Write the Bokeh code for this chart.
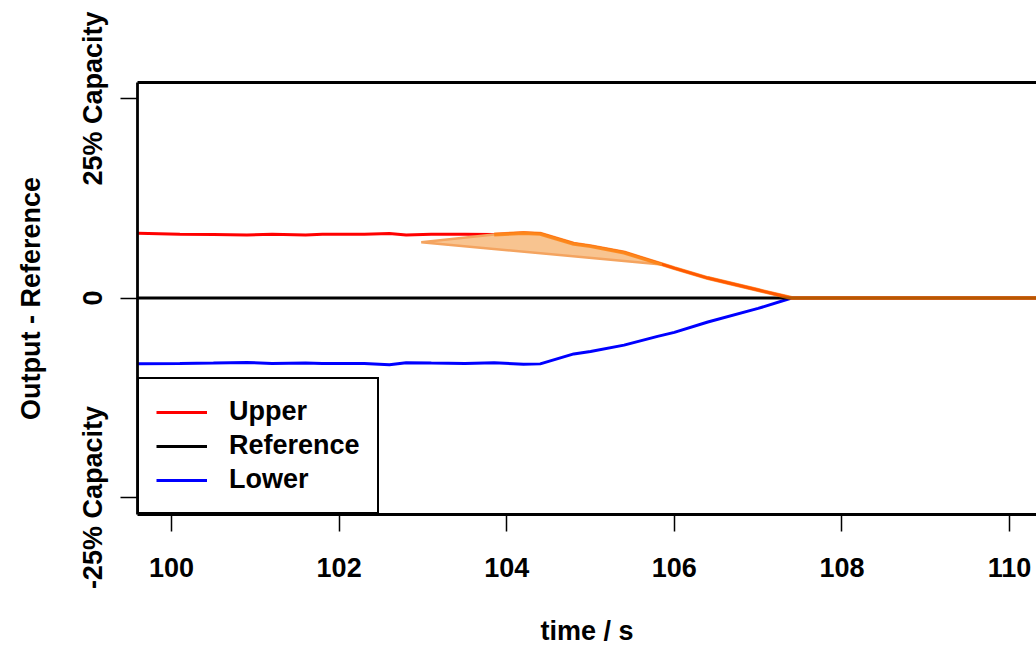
from bokeh.plotting import figure
from bokeh.models import (FixedTicker, LinearAxis, Range1d, Legend, LegendItem)
from bokeh.embed import file_html
from bokeh.resources import INLINE

# ---- data ----
time_s = [99.6, 100.1, 100.5, 100.9, 101.2, 101.6, 101.8, 102.3, 102.6, 102.8, 103.1,
          103.5, 103.85, 104.2, 104.4, 104.8, 105.0, 105.4, 105.8, 106.0, 106.4,
          107.0, 107.4, 108.0, 109.0, 110.0, 110.5]
upper = [8.1, 8.0, 7.95, 7.9, 8.0, 7.9, 8.0, 7.98, 8.08, 7.9, 8.0,
         8.0, 7.95, 8.15, 8.05, 6.8, 6.5, 5.7, 4.4, 3.75, 2.5,
         1.0, 0.0, 0.0, 0.0, 0.0, 0.0]
lower = [-8.25, -8.2, -8.15, -8.08, -8.2, -8.15, -8.2, -8.2, -8.35, -8.1, -8.15,
         -8.2, -8.1, -8.3, -8.25, -7.0, -6.7, -5.9, -4.8, -4.3, -3.0,
         -1.3, 0.0, 0.0, 0.0, 0.0, 0.0]
ref_t = [99.5, 110.5]
ref_v = [0.0, 0.0]
output_t = [103.85, 104.2, 104.4, 104.8, 105.0, 105.4, 105.8, 106.0, 106.4,
            107.0, 107.4, 108.0, 110.5]
output_v = [7.95, 8.15, 8.05, 6.8, 6.5, 5.7, 4.4, 3.75, 2.5,
            1.0, 0.0, 0.0, 0.0]
band_t = [102.98, 103.85, 104.2, 104.4, 104.8, 105.0, 105.4, 105.85]
band_v = [7.0, 7.95, 8.15, 8.05, 6.8, 6.5, 5.7, 4.2]
x_ticks = [100, 102, 104, 106, 108, 110]
y_ticks = [-25, 0, 25]
y_tick_labels = ["-25% Capacity", "0", "25% Capacity"]

FONT = "Liberation Sans"
FS = "27px"

p = figure(width=1036, height=648, output_backend="svg", toolbar_location=None,
           x_range=Range1d(99.594, 110.322), y_range=Range1d(-27.12, 27.0),
           min_border_left=137, min_border_top=82, min_border_bottom=133,
           min_border_right=0, x_axis_label="time / s",
           y_axis_label="Output - Reference")
p.outline_line_color = None
p.grid.visible = False
p.background_fill_color = "white"
p.border_fill_color = "white"

r_up = p.line(time_s, upper, line_color="#FF0000", line_width=3)
r_lo = p.line(time_s, lower, line_color="#0000FF", line_width=3)
r_ref = p.line(ref_t, ref_v, line_color="black", line_width=2.8)
p.patch(band_t, band_v, fill_color="#F8C490", fill_alpha=1.0,
        line_color="#F4A460", line_width=2.5)
p.line(output_t, output_v, line_color="#FF7A00", line_alpha=0.72, line_width=4)

xa = p.xaxis[0]
xa.ticker = FixedTicker(ticks=x_ticks)
ya = p.yaxis[0]
ya.ticker = FixedTicker(ticks=y_ticks)
ya.major_label_overrides = {t: l for t, l in zip(y_ticks, y_tick_labels)}
ya.major_label_orientation = "vertical"

for ax in (xa, ya):
    ax.axis_line_width = 2.8
    ax.axis_line_color = "black"
    ax.major_tick_in = 0
    ax.major_tick_out = 17
    ax.major_tick_line_width = 1.5
    ax.minor_tick_line_color = None
    ax.major_label_text_font = FONT
    ax.major_label_text_font_style = "bold"
    ax.major_label_text_font_size = FS
    ax.major_label_text_color = "black"
    ax.axis_label_text_font = FONT
    ax.axis_label_text_font_style = "bold"
    ax.axis_label_text_font_size = FS
    ax.axis_label_text_color = "black"

xa.major_label_standoff = 26
xa.axis_label_standoff = 36
ya.major_label_standoff = 12
ya.axis_label_standoff = 30

top = LinearAxis(ticker=FixedTicker(ticks=[]), axis_line_width=2.8,
                 axis_line_color="black", major_tick_out=0, major_tick_in=0,
                 minor_tick_line_color=None, major_label_text_font_size="0px")
p.add_layout(top, "above")

legend = Legend(items=[LegendItem(label="Upper", renderers=[r_up]),
                       LegendItem(label="Reference", renderers=[r_ref]),
                       LegendItem(label="Lower", renderers=[r_lo])],
                location="bottom_left", margin=0, padding=17, spacing=3,
                label_height=30, glyph_height=30, glyph_width=51,
                label_standoff=22, border_line_color="black",
                border_line_alpha=1.0, border_line_width=2.8,
                background_fill_alpha=1.0,
                label_text_font=FONT, label_text_font_style="bold",
                label_text_font_size=FS, label_text_color="black")
p.add_layout(legend, "center")

open("out.html", "w").write(file_html(p, INLINE))
